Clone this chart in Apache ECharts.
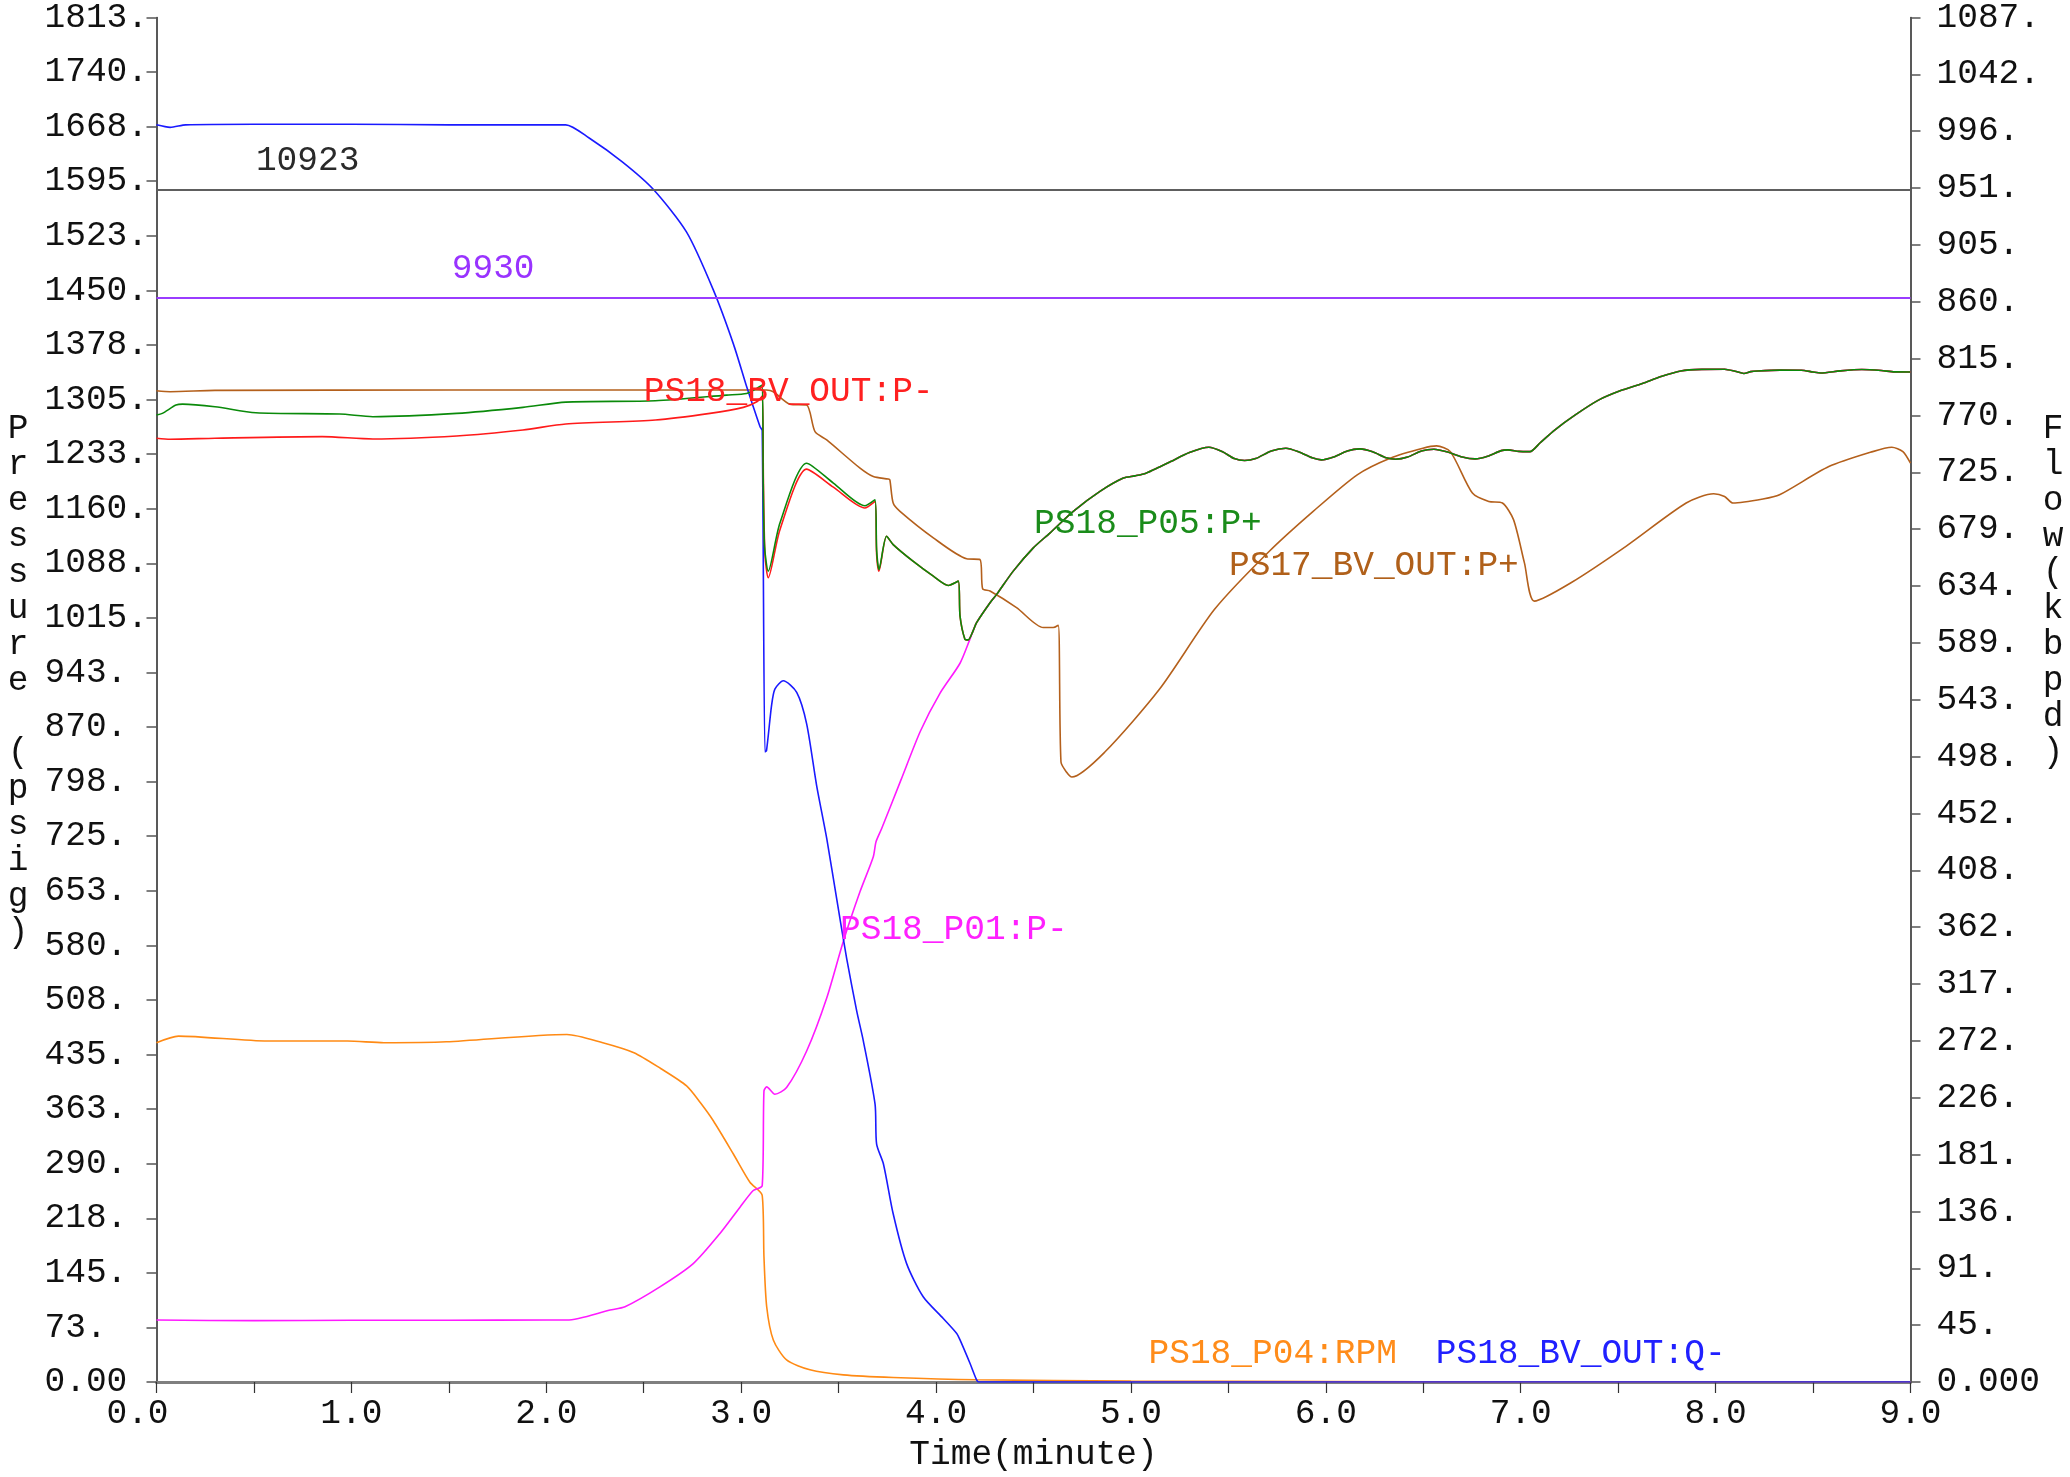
<!DOCTYPE html>
<html>
<head>
<meta charset="utf-8">
<title>PS18 shutdown transient</title>
<script src="https://cdn.jsdelivr.net/npm/echarts@6.0.0/dist/echarts.min.js"></script>
<style>
  html, body { margin: 0; padding: 0; background: #ffffff; }
  #chart { width: 2070px; height: 1477px; }
</style>
</head>
<body>
<div id="chart"></div>
<script>
// ---- axis tick labels ----
const TIME_TICKS = ['0.0', '1.0', '2.0', '3.0', '4.0', '5.0', '6.0', '7.0', '8.0', '9.0'];
const PRESSURE_TICKS = ['0.00', '73.', '145.', '218.', '290.', '363.', '435.', '508.', '580.', '653.',
  '725.', '798.', '870.', '943.', '1015.', '1088.', '1160.', '1233.', '1305.', '1378.', '1450.',
  '1523.', '1595.', '1668.', '1740.', '1813.'];
const FLOW_TICKS = ['0.000', '45.', '91.', '136.', '181.', '226.', '272.', '317.', '362.', '408.',
  '452.', '498.', '543.', '589.', '634.', '679.', '725.', '770.', '815.', '860.', '905.', '951.',
  '996.', '1042.', '1087.'];
const PRESSURE_MAX = 1813;
const FLOW_MAX = 1087;

// ---- pressure limits (kPa) ----
const LIMITS_KPA = [10923, 9930];
const KPA_PER_PSI = 6.894757;

// ---- PS18_BV_OUT:Q- flow (kbpd) ----
const flowT = [0, 0.07, 0.15, 0.5, 1.0, 1.5, 2.0, 2.10, 2.22, 2.39, 2.55, 2.72, 2.857, 2.96, 3.028, 3.062,
  3.097, 3.108, 3.122, 3.13, 3.156, 3.173, 3.216, 3.285, 3.336, 3.387, 3.439, 3.49, 3.541, 3.593, 3.627,
  3.687, 3.695, 3.73, 3.78, 3.849, 3.934, 4.037, 4.106, 4.123, 4.174, 4.208, 4.22, 9.0];
const flowQ = [1001.5, 999.5, 1001.5, 1002, 1002, 1001.5, 1001.5, 1001.5, 991, 972, 950, 916, 870, 827, 793, 777,
  761, 758, 502, 503, 539, 552, 558.6, 549.4, 524.3, 475.3, 433, 385, 337.7, 295.4, 271.6,
  221.3, 189.5, 173.7, 134, 94.3, 67.9, 50.6, 38.7, 33.5, 14.9, 1.7, 0, 0];

// ---- PS18_P04:RPM ----
const rpmT = [0, 0.113, 0.57, 0.98, 1.167, 1.487, 2.106, 2.29, 2.45, 2.587, 2.72, 2.79, 2.857, 2.96, 3.045,
  3.108, 3.117, 3.131, 3.165, 3.233, 3.353, 3.524, 3.78, 4.208, 5.0, 6.0, 7.0, 9.0];
const rpm = [450.8, 459.6, 453, 453, 450.8, 452, 461.8, 450.8, 437.5, 416.5, 393.4, 371.3, 347.1, 302.9, 265.4,
  247.8, 166.1, 100, 55.9, 29.4, 16.2, 9.5, 6, 2.9, 1.2, 0.5, 0, 0];

// ---- PS18_P01:P- suction pressure (psig), before it joins the discharge trace ----
const p01T = [0, 0.5, 1.0, 1.5, 2.0, 2.106, 2.327, 2.404, 2.583, 2.754, 2.89, 2.994, 3.062, 3.108, 3.117,
  3.131, 3.173, 3.233, 3.336, 3.439, 3.524, 3.61, 3.678, 3.692, 3.721, 3.82, 3.92, 4.02, 4.123, 4.174];
const p01 = [82.3, 81.5, 82, 82, 82.3, 82.3, 95.6, 100, 126.4, 157.3, 197, 232.3, 254.4, 261, 386.8,
  392.1, 382.3, 391.2, 439.8, 510.3, 585.4, 651.6, 697.9, 717.8, 735.4, 800, 865, 915, 955, 987];

// ---- PS18_P05:P+ discharge pressure (psig) ----
const p05T = [0, 0.03, 0.1, 0.134, 0.3, 0.51, 0.94, 1.11, 1.54, 1.88, 2.10, 2.56, 2.925, 3.028, 3.08, 3.108,
  3.113, 3.12, 3.139, 3.199, 3.336, 3.473, 3.635, 3.687, 3.695, 3.707];
const p05 = [1284.8, 1287, 1298, 1299.3, 1295.8, 1287.8, 1286.1, 1282.6, 1287, 1295, 1302, 1303.7, 1311.3, 1313.5,
  1320.2, 1324.5, 1200, 1110, 1077.4, 1141.4, 1220.8, 1194.4, 1164.3, 1172.3, 1106, 1079.6];

// ---- PS18_BV_OUT:P- station outlet pressure (psig) ----
const bvOutT = [0, 0.07, 0.3, 0.85, 1.11, 1.54, 1.88, 2.10, 2.56, 2.84, 3.011, 3.08, 3.108, 3.114, 3.122, 3.139,
  3.199, 3.336, 3.473, 3.635, 3.687, 3.695, 3.707];
const bvOutP = [1253.9, 1252.6, 1254, 1256.1, 1253, 1257, 1265, 1272.9, 1278.2, 1287, 1295, 1302.4, 1310, 1200,
  1100, 1068.6, 1132.5, 1212.9, 1189, 1161.3, 1170, 1100, 1077.4];

// ---- shared trace of P05 and BV_OUT once they coincide ----
const jointT = [3.746, 3.78, 3.88, 3.986, 4.063, 4.114, 4.123, 4.148, 4.165, 4.19];
const jointP = [1123.7, 1112.7, 1091, 1070.7, 1058.4, 1064.1, 1017.8, 987, 986, 998];

// ---- shared trace of P01, P05 and BV_OUT after the valve closes ----
const mergedT = [4.208, 4.277, 4.311, 4.396, 4.499, 4.584, 4.704, 4.841, 4.961, 5.02, 5.077, 5.14, 5.204,
  5.30, 5.40, 5.47, 5.53, 5.583, 5.64, 5.72, 5.795, 5.86, 5.93, 5.977, 6.04, 6.11, 6.175, 6.24, 6.31, 6.358,
  6.42, 6.49, 6.555, 6.62, 6.70, 6.766, 6.83, 6.90, 6.934, 6.99, 7.047, 7.10, 7.174, 7.28, 7.399, 7.51,
  7.624, 7.72, 7.821, 7.93, 8.046, 8.10, 8.145, 8.18, 8.215, 8.33, 8.44, 8.50, 8.539, 8.64, 8.75, 8.85,
  8.919, 9.0];
const mergedP = [1009, 1035.5, 1046.5, 1077.4, 1108.3, 1128, 1156.8, 1183.3, 1201, 1204, 1207.6, 1215, 1223,
  1235, 1242, 1236, 1227, 1224.3, 1227, 1237, 1240.7, 1236, 1228, 1225.2, 1229, 1237, 1239.8, 1236, 1228, 1226.1,
  1229, 1237, 1239.4, 1236, 1229, 1226.5, 1230, 1237.5, 1238.5, 1236.5, 1236.2, 1248, 1264.9, 1285, 1304.6, 1317,
  1326.7, 1336, 1343.4, 1345.5, 1345.7, 1343, 1340, 1342.5, 1343.4, 1344.5, 1344.3, 1342, 1340.7, 1343.5, 1345.3, 1344,
  1342.1, 1342];

// ---- PS17_BV_OUT:P+ upstream station pressure (psig) ----
const ps17T = [0, 0.07, 0.3, 1.5, 3.13, 3.165, 3.25, 3.336, 3.379, 3.439, 3.61, 3.678, 3.755, 3.763, 3.78,
  3.815, 3.986, 4.157, 4.225, 4.239, 4.277, 4.413, 4.55, 4.601, 4.627, 4.641, 4.669, 4.697, 4.866, 5.147,
  5.429, 5.71, 5.935, 6.161, 6.33, 6.498, 6.568, 6.639, 6.752, 6.836, 6.906, 6.963, 7.019, 7.07, 7.258,
  7.54, 7.849, 7.99, 8.046, 8.089, 8.243, 8.328, 8.581, 8.806, 8.904, 8.961, 9.0];
const ps17 = [1317, 1315.8, 1317.5, 1318, 1318, 1315.7, 1299.3, 1298, 1262.7, 1251.7, 1214.2, 1203.1, 1199.7,
  1198.7, 1167.9, 1156.8, 1121.6, 1093.8, 1092.8, 1054, 1050.9, 1028.9, 1002.4, 1002.4, 1005.5, 823.7, 810.5,
  803.8, 837, 920.7, 1026.6, 1103.8, 1156.8, 1205.4, 1227.5, 1240.7, 1243.8, 1236.2, 1181.1, 1170, 1167.9,
  1145.8, 1088.4, 1037.6, 1062, 1110.4, 1167.9, 1180.2, 1176.6, 1167.9, 1173.2, 1178.8, 1216.3, 1236.2, 1242,
  1236.2, 1220.8];

// ---- helpers ----
function pairs(ts, vs) { return ts.map((t, i) => [t, vs[i]]); }

const FONT = '"Liberation Mono", "DejaVu Sans Mono", monospace';
const FS = 34.5;

const p05Data = pairs(p05T.concat(jointT, mergedT), p05.concat(jointP, mergedP));
const bvOutData = pairs(bvOutT.concat(jointT, mergedT), bvOutP.concat(jointP, mergedP));
const p01Data = pairs(p01T.concat(mergedT), p01.concat(mergedP));

const chart = echarts.init(document.getElementById('chart'), null, { renderer: 'canvas' });

const lineBase = {
  type: 'line', showSymbol: false, symbol: 'none', animation: false, silent: true, smooth: 0.25
};

chart.setOption({
  animation: false,
  backgroundColor: '#ffffff',
  grid: { left: 156.5, right: 159.5, top: 16, bottom: 91.5, containLabel: false },
  xAxis: {
    type: 'value', min: 0, max: 9, interval: 0.5,
    name: 'Time(minute)', nameLocation: 'middle', nameGap: 55,
    nameTextStyle: { fontFamily: FONT, fontSize: FS, color: '#111' },
    axisLine: { onZero: false, lineStyle: { color: '#7f7f7f', width: 3 } },
    axisTick: { show: true, length: 11, lineStyle: { color: '#333', width: 1.2 } },
    axisLabel: {
      margin: 14, fontFamily: FONT, fontSize: FS, color: '#111',
      showMinLabel: true, showMaxLabel: true,
      formatter: function (v) {
        const i = Math.round(v);
        if (Math.abs(v - i) > 1e-6) return '';
        return i === 0 ? '{first|' + TIME_TICKS[0] + '}' : TIME_TICKS[i];
      },
      rich: { first: { fontFamily: FONT, fontSize: FS, color: '#111', padding: [0, 38, 0, 0] } }
    },
    splitLine: { show: false }
  },
  yAxis: [
    {
      type: 'value', min: 0, max: PRESSURE_MAX, interval: PRESSURE_MAX / (PRESSURE_TICKS.length - 1),
      position: 'left',
      axisLine: { show: true, onZero: false, lineStyle: { color: '#222', width: 1.5 } },
      axisTick: { show: true, length: 10, lineStyle: { color: '#555', width: 1.5 } },
      axisLabel: {
        align: 'left', margin: 112, fontFamily: FONT, fontSize: FS, color: '#111',
        showMinLabel: true, showMaxLabel: true,
        formatter: v => PRESSURE_TICKS[Math.round(v / (PRESSURE_MAX / (PRESSURE_TICKS.length - 1)))]
      },
      splitLine: { show: false }
    },
    {
      type: 'value', min: 0, max: FLOW_MAX, interval: FLOW_MAX / (FLOW_TICKS.length - 1),
      position: 'right',
      axisLine: { show: true, onZero: false, lineStyle: { color: '#222', width: 1.5 } },
      axisTick: { show: true, length: 10, lineStyle: { color: '#555', width: 1.5 } },
      axisLabel: {
        align: 'left', margin: 26, fontFamily: FONT, fontSize: FS, color: '#111',
        showMinLabel: true, showMaxLabel: true,
        formatter: v => FLOW_TICKS[Math.round(v / (FLOW_MAX / (FLOW_TICKS.length - 1)))]
      },
      splitLine: { show: false }
    }
  ],
  visualMap: [{
    type: 'piecewise', show: false, seriesIndex: 5, dimension: 0,
    pieces: [
      { lt: 3.71, color: '#0a8a0a' },
      { gte: 3.71, lt: 4.205, color: '#1c5a14' },
      { gte: 4.205, color: '#2c2c2c' }
    ]
  }],
  series: [
    Object.assign({}, lineBase, {
      name: 'PS18_P04:RPM', yAxisIndex: 0, data: pairs(rpmT, rpm),
      lineStyle: { color: '#ff8a14', width: 1.6 }, z: 2
    }),
    Object.assign({}, lineBase, {
      name: 'PS18_P01:P-', yAxisIndex: 0, data: p01Data,
      lineStyle: { color: '#ff1aff', width: 1.6 }, z: 2
    }),
    Object.assign({}, lineBase, {
      name: 'PS17_BV_OUT:P+', yAxisIndex: 0, data: pairs(ps17T, ps17),
      lineStyle: { color: '#b4601c', width: 1.6 }, z: 2,
      markLine: {
        silent: true, symbol: ['none', 'none'], animation: false,
        label: { show: false },
        data: [
          { yAxis: LIMITS_KPA[0] / KPA_PER_PSI, lineStyle: { color: '#5e5e5e', width: 2.2, type: 'solid' } },
          { yAxis: LIMITS_KPA[1] / KPA_PER_PSI, lineStyle: { color: '#9a3cff', width: 1.8, type: 'solid' } }
        ]
      }
    }),
    Object.assign({}, lineBase, {
      name: 'PS18_BV_OUT:Q-', yAxisIndex: 1, data: pairs(flowT, flowQ),
      lineStyle: { color: '#1a1aff', width: 1.6 }, z: 3
    }),
    Object.assign({}, lineBase, {
      name: 'PS18_BV_OUT:P-', yAxisIndex: 0, data: bvOutData,
      lineStyle: { color: '#ff1a1a', width: 1.6 }, z: 3
    }),
    Object.assign({}, lineBase, {
      name: 'PS18_P05:P+', yAxisIndex: 0, data: p05Data,
      lineStyle: { color: '#0a8a0a', width: 1.6 }, z: 4
    })
  ]
});

// ---- in-plot captions, anchored in data coordinates (minutes, psig) ----
const captions = [
  { text: String(LIMITS_KPA[0]), at: [0.51, 1623], color: '#2a2a2a' },
  { text: String(LIMITS_KPA[1]), at: [1.515, 1479], color: '#9933ff' },
  { text: 'PS18_BV_OUT:P-', at: [2.50, 1315], color: '#ff2020' },
  { text: 'PS18_P05:P+', at: [4.503, 1140], color: '#1a8c1a' },
  { text: 'PS17_BV_OUT:P+', at: [5.503, 1085], color: '#b0601a' },
  { text: 'PS18_P01:P-', at: [3.507, 601], color: '#ff20ff' },
  { text: 'PS18_P04:RPM', at: [5.09, 38], color: '#ff8c1a' },
  { text: 'PS18_BV_OUT:Q-', at: [6.564, 38], color: '#2020ff' }
];

const graphics = captions.map(c => {
  const p = chart.convertToPixel({ xAxisIndex: 0, yAxisIndex: 0 }, c.at);
  return {
    type: 'text', silent: true, z: 10,
    style: { text: c.text, x: p[0], y: p[1], fill: c.color, font: FS + 'px ' + FONT, align: 'left', verticalAlign: 'middle' }
  };
});

// vertical axis titles, one character per line
const plotTop = chart.convertToPixel({ yAxisIndex: 0 }, PRESSURE_MAX);
graphics.push({
  type: 'text', silent: true,
  style: { text: 'Pressure (psig)'.split('').join('\n'), x: 18, y: plotTop + 393.6, fill: '#111',
    font: FS + 'px ' + FONT, lineHeight: 36, align: 'center', verticalAlign: 'top' }
});
graphics.push({
  type: 'text', silent: true,
  style: { text: 'Flow(kbpd)'.split('').join('\n'), x: 2053, y: plotTop + 393.6, fill: '#111',
    font: FS + 'px ' + FONT, lineHeight: 36, align: 'center', verticalAlign: 'top' }
});

chart.setOption({ graphic: graphics });
</script>
</body>
</html>
